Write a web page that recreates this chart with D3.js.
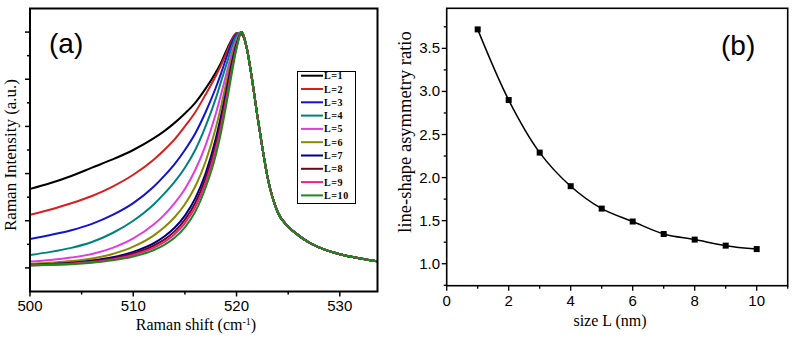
<!DOCTYPE html>
<html>
<head>
<meta charset="utf-8">
<script src="https://cdn.jsdelivr.net/npm/d3@7"></script>
<style>
  html, body { margin: 0; padding: 0; background: #fff; }
  svg { display: block; }
</style>
</head>
<body>
<div id="chart"></div>
<script>
// ── (a) Raman spectra, L = 1 … 10 ─────────────────────────────
const ramanShift = [500, 502, 504, 506, 508, 510, 512, 513, 514, 515, 516, 517, 518, 518.5, 519, 519.5, 520, 520.5,
                    521, 521.5, 522, 522.5, 523, 524, 525, 526, 527, 528, 530, 532, 533.6];

// right wing (>= 521 cm-1): all ten curves lie on top of each other
const tailIntensity = [0.93, 0.80, 0.65, 0.51, 0.385, 0.235, 0.175, 0.138, 0.108, 0.087, 0.058, 0.040, 0.028];

// left wing + peak (500 … 520.5 cm-1)
const intensityL1  = [0.335, 0.36, 0.39, 0.425, 0.46, 0.50, 0.55, 0.58, 0.615, 0.655, 0.70, 0.76, 0.83, 0.87, 0.92, 0.965, 0.995, 0.99];
const intensityL2  = [0.225, 0.248, 0.274, 0.305, 0.345, 0.395, 0.46, 0.50, 0.545, 0.60, 0.66, 0.735, 0.815, 0.86, 0.91, 0.96, 0.995, 0.99];
const intensityL3  = [0.123, 0.14, 0.16, 0.187, 0.225, 0.275, 0.345, 0.39, 0.44, 0.50, 0.57, 0.66, 0.765, 0.825, 0.89, 0.95, 0.99, 0.995];
const intensityL4  = [0.055, 0.068, 0.085, 0.11, 0.148, 0.20, 0.27, 0.315, 0.365, 0.425, 0.50, 0.60, 0.72, 0.79, 0.86, 0.93, 0.985, 1.0];
const intensityL5  = [0.027, 0.034, 0.044, 0.059, 0.085, 0.125, 0.185, 0.225, 0.275, 0.335, 0.415, 0.52, 0.655, 0.735, 0.82, 0.905, 0.97, 1.0];
const intensityL6  = [0.017, 0.022, 0.029, 0.04, 0.059, 0.09, 0.138, 0.172, 0.215, 0.27, 0.345, 0.45, 0.595, 0.685, 0.785, 0.885, 0.96, 1.0];
const intensityL7  = [0.013, 0.017, 0.022, 0.031, 0.045, 0.068, 0.105, 0.133, 0.17, 0.222, 0.295, 0.40, 0.55, 0.645, 0.75, 0.86, 0.95, 1.0];
const intensityL8  = [0.012, 0.015, 0.02, 0.028, 0.04, 0.061, 0.095, 0.12, 0.155, 0.205, 0.275, 0.38, 0.525, 0.62, 0.73, 0.845, 0.94, 1.0];
const intensityL9  = [0.011, 0.014, 0.018, 0.025, 0.036, 0.055, 0.086, 0.11, 0.143, 0.19, 0.258, 0.36, 0.505, 0.60, 0.712, 0.83, 0.935, 1.0];
const intensityL10 = [0.010, 0.013, 0.016, 0.022, 0.032, 0.048, 0.076, 0.098, 0.128, 0.172, 0.238, 0.34, 0.48, 0.575, 0.69, 0.815, 0.93, 1.0];

const seriesLabels = ["L=1", "L=2", "L=3", "L=4", "L=5", "L=6", "L=7", "L=8", "L=9", "L=10"];
const seriesColors = ["#000000", "#d81e1e", "#1414cc", "#008080", "#e03ce0", "#8a8a00", "#000080", "#6e0a14", "#f01e8c", "#1a8a1a"];
const seriesLeft   = [intensityL1, intensityL2, intensityL3, intensityL4, intensityL5,
                      intensityL6, intensityL7, intensityL8, intensityL9, intensityL10];

const shiftTicks = [500, 510, 520, 530];

// ── (b) asymmetry ratio vs size ─────────────────────────────
const sizeL          = [1, 2, 3, 4, 5, 6, 7, 8, 9, 10];
const asymmetryRatio = [3.72, 2.90, 2.29, 1.90, 1.64, 1.49, 1.345, 1.28, 1.21, 1.17];
const sizeTicks      = [0, 2, 4, 6, 8, 10];
const ratioTicks     = [1.0, 1.5, 2.0, 2.5, 3.0, 3.5];

const W = 794, H = 339;
const SANS  = "Arial, 'Liberation Sans', sans-serif";
const SERIF = "'Times New Roman', 'Liberation Serif', serif";

const svg = d3.select("#chart").append("svg")
  .attr("width", W).attr("height", H)
  .attr("viewBox", `0 0 ${W} ${H}`);

svg.append("rect").attr("width", W).attr("height", H).attr("fill", "#fff");

// ── helpers ─────────────────────────────────────────────────
function frame(g, x0, x1, y0, y1, sw) {
  g.append("rect")
    .attr("x", x0).attr("y", y0)
    .attr("width", x1 - x0).attr("height", y1 - y0)
    .attr("fill", "none").attr("stroke", "#000").attr("stroke-width", sw);
}

function tickMarks(g, scale, values, orient, pos, len, sw) {
  values.forEach(v => {
    const p = scale(v);
    if (orient === "bottom") {
      g.append("line").attr("x1", p).attr("x2", p).attr("y1", pos).attr("y2", pos + len)
        .attr("stroke", "#000").attr("stroke-width", sw);
    } else {
      g.append("line").attr("y1", p).attr("y2", p).attr("x1", pos).attr("x2", pos - len)
        .attr("stroke", "#000").attr("stroke-width", sw);
    }
  });
}

// ════════════════════════ panel (a) ════════════════════════
const A = { left: 30, right: 377.5, top: 8.5, bottom: 291.5 };
const xA = d3.scaleLinear().domain([500, 533.65]).range([A.left, A.right]);
const yA = d3.scaleLinear().domain([-0.1, 1.1]).range([A.bottom, A.top]);
const gA = svg.append("g");

const clipA = svg.append("defs").append("clipPath").attr("id", "clipA");
clipA.append("rect").attr("x", A.left).attr("y", A.top)
  .attr("width", A.right - A.left).attr("height", A.bottom - A.top);

const lineA = d3.line()
  .x(d => xA(d[0]))
  .y(d => yA(d[1]))
  .curve(d3.curveMonotoneX);

const curvesG = gA.append("g").attr("clip-path", "url(#clipA)");
seriesLeft.forEach((left, i) => {
  const vals = left.concat(tailIntensity);
  const pts = ramanShift.map((x, k) => [x, vals[k]]);
  curvesG.append("path")
    .attr("d", lineA(pts))
    .attr("fill", "none")
    .attr("stroke", seriesColors[i])
    .attr("stroke-width", 2);
});

frame(gA, A.left, A.right, A.top, A.bottom, 2);

// x ticks: majors every 10, minors every 5
tickMarks(gA, xA, shiftTicks, "bottom", A.bottom, 5, 1.5);
tickMarks(gA, xA, [505, 515, 525], "bottom", A.bottom, 3, 1.5);
shiftTicks.forEach(v => {
  gA.append("text")
    .attr("x", xA(v)).attr("y", 311)
    .attr("text-anchor", "middle")
    .attr("font-family", SANS).attr("font-size", 15)
    .text(v);
});

// y ticks (no labels)
tickMarks(gA, yA, d3.range(0, 1.01, 0.2), "left", A.left, 5, 1.5);
tickMarks(gA, yA, d3.range(0.1, 1.01, 0.2), "left", A.left, 3, 1.5);

// axis titles
const xTitleA = gA.append("text")
  .attr("x", 196).attr("y", 330)
  .attr("text-anchor", "middle")
  .attr("font-family", SERIF).attr("font-size", 16);
xTitleA.append("tspan").text("Raman shift (cm");
xTitleA.append("tspan").attr("dy", -5).attr("font-size", 10).text("-1");
xTitleA.append("tspan").attr("dy", 5).text(")");

gA.append("text")
  .attr("transform", `translate(16,155) rotate(-90)`)
  .attr("text-anchor", "middle")
  .attr("font-family", SERIF).attr("font-size", 17)
  .text("Raman Intensity (a.u.)");

gA.append("text")
  .attr("x", 49).attr("y", 53)
  .attr("font-family", SANS).attr("font-size", 28)
  .text("(a)");

// legend
const legG = gA.append("g");
legG.append("rect")
  .attr("x", 297.5).attr("y", 71.5).attr("width", 58).attr("height", 132)
  .attr("fill", "#fff").attr("stroke", "#000").attr("stroke-width", 1);
seriesLabels.forEach((lab, i) => {
  const y = 75.7 + i * 13.3;
  legG.append("line")
    .attr("x1", 301).attr("x2", 323).attr("y1", y).attr("y2", y)
    .attr("stroke", seriesColors[i]).attr("stroke-width", 2);
  legG.append("text")
    .attr("x", 324).attr("y", y + 3.5)
    .attr("font-family", SERIF).attr("font-size", 10).attr("font-weight", "bold")
    .attr("letter-spacing", 0.6)
    .text(lab);
});

// ════════════════════════ panel (b) ════════════════════════
const B = { left: 446.7, right: 787.7, top: 8.3, bottom: 285.7 };
const xB = d3.scaleLinear().domain([0, 11]).range([B.left, B.right]);
const yB = d3.scaleLinear().domain([0.745, 3.965]).range([B.bottom, B.top]);
const gB = svg.append("g");

const pts = sizeL.map((s, i) => [s, asymmetryRatio[i]]);

gB.append("path")
  .attr("d", d3.line().x(d => xB(d[0])).y(d => yB(d[1])).curve(d3.curveCatmullRom)(pts))
  .attr("fill", "none").attr("stroke", "#000").attr("stroke-width", 1.5);

gB.selectAll("rect.pt").data(pts).join("rect")
  .attr("class", "pt")
  .attr("x", d => xB(d[0]) - 3).attr("y", d => yB(d[1]) - 3)
  .attr("width", 6).attr("height", 6)
  .attr("fill", "#000");

frame(gB, B.left, B.right, B.top, B.bottom, 1.6);

tickMarks(gB, xB, sizeTicks, "bottom", B.bottom, 5, 1.3);
tickMarks(gB, xB, [1, 3, 5, 7, 9, 11], "bottom", B.bottom, 3, 1.3);
sizeTicks.forEach(v => {
  gB.append("text")
    .attr("x", xB(v)).attr("y", 306)
    .attr("text-anchor", "middle")
    .attr("font-family", SANS).attr("font-size", 15)
    .text(v);
});

tickMarks(gB, yB, ratioTicks, "left", B.left, 5, 1.3);
tickMarks(gB, yB, [0.75, 1.25, 1.75, 2.25, 2.75, 3.25, 3.75], "left", B.left, 3, 1.3);
ratioTicks.forEach(v => {
  gB.append("text")
    .attr("x", 440).attr("y", yB(v) + 5)
    .attr("text-anchor", "end")
    .attr("font-family", SANS).attr("font-size", 15)
    .text(v.toFixed(1));
});

gB.append("text")
  .attr("x", 610).attr("y", 326)
  .attr("text-anchor", "middle")
  .attr("font-family", SERIF).attr("font-size", 16)
  .text("size L (nm)");

gB.append("text")
  .attr("transform", `translate(411,132) rotate(-90)`)
  .attr("text-anchor", "middle")
  .attr("font-family", SERIF).attr("font-size", 18.5)
  .text("line-shape asymmetry ratio");

gB.append("text")
  .attr("x", 721).attr("y", 55)
  .attr("font-family", SANS).attr("font-size", 28)
  .text("(b)");
</script>
</body>
</html>
